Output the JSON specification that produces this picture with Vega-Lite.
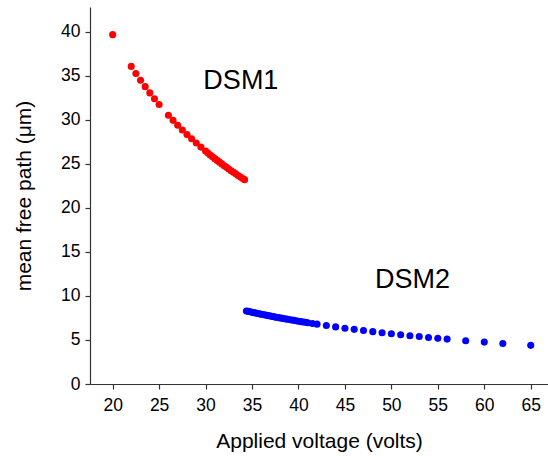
{
  "$schema": "https://vega.github.io/schema/vega-lite/v6.json",
  "width": 458,
  "height": 377,
  "autosize": {"type": "none"},
  "padding": {"left": 90, "top": 7, "right": 0, "bottom": 72},
  "background": "white",
  "config": {
    "view": {"stroke": null},
    "font": "Liberation Sans",
    "axis": {
      "domainColor": "#333333",
      "tickColor": "#333333",
      "labelColor": "#000000",
      "titleColor": "#000000",
      "labelFont": "Liberation Sans",
      "titleFont": "Liberation Sans",
      "labelFontSize": 17.5,
      "titleFontSize": 21,
      "titleFontWeight": "normal",
      "grid": false,
      "domainWidth": 1.2,
      "tickWidth": 1.2
    }
  },
  "datasets": {
    "points": [
      {"voltage": 20, "mfp": 39.7, "series": "DSM1"},
      {"voltage": 22, "mfp": 36.09, "series": "DSM1"},
      {"voltage": 22.5, "mfp": 35.29, "series": "DSM1"},
      {"voltage": 23, "mfp": 34.52, "series": "DSM1"},
      {"voltage": 23.5, "mfp": 33.79, "series": "DSM1"},
      {"voltage": 24, "mfp": 33.08, "series": "DSM1"},
      {"voltage": 24.5, "mfp": 32.41, "series": "DSM1"},
      {"voltage": 25, "mfp": 31.76, "series": "DSM1"},
      {"voltage": 26, "mfp": 30.54, "series": "DSM1"},
      {"voltage": 26.5, "mfp": 29.96, "series": "DSM1"},
      {"voltage": 27, "mfp": 29.41, "series": "DSM1"},
      {"voltage": 27.5, "mfp": 28.87, "series": "DSM1"},
      {"voltage": 28, "mfp": 28.36, "series": "DSM1"},
      {"voltage": 28.5, "mfp": 27.86, "series": "DSM1"},
      {"voltage": 29, "mfp": 27.38, "series": "DSM1"},
      {"voltage": 29.5, "mfp": 26.92, "series": "DSM1"},
      {"voltage": 30, "mfp": 26.47, "series": "DSM1"},
      {"voltage": 30.25, "mfp": 26.25, "series": "DSM1"},
      {"voltage": 30.5, "mfp": 26.03, "series": "DSM1"},
      {"voltage": 30.75, "mfp": 25.82, "series": "DSM1"},
      {"voltage": 31, "mfp": 25.61, "series": "DSM1"},
      {"voltage": 31.25, "mfp": 25.41, "series": "DSM1"},
      {"voltage": 31.5, "mfp": 25.21, "series": "DSM1"},
      {"voltage": 31.75, "mfp": 25.01, "series": "DSM1"},
      {"voltage": 32, "mfp": 24.81, "series": "DSM1"},
      {"voltage": 32.25, "mfp": 24.62, "series": "DSM1"},
      {"voltage": 32.5, "mfp": 24.43, "series": "DSM1"},
      {"voltage": 32.75, "mfp": 24.24, "series": "DSM1"},
      {"voltage": 33, "mfp": 24.06, "series": "DSM1"},
      {"voltage": 33.25, "mfp": 23.88, "series": "DSM1"},
      {"voltage": 33.5, "mfp": 23.7, "series": "DSM1"},
      {"voltage": 33.75, "mfp": 23.53, "series": "DSM1"},
      {"voltage": 34, "mfp": 23.35, "series": "DSM1"},
      {"voltage": 34.2, "mfp": 23.22, "series": "DSM1"},
      {"voltage": 34.4, "mfp": 8.3, "series": "DSM2"},
      {"voltage": 34.6, "mfp": 8.25, "series": "DSM2"},
      {"voltage": 34.8, "mfp": 8.2, "series": "DSM2"},
      {"voltage": 35, "mfp": 8.16, "series": "DSM2"},
      {"voltage": 35.2, "mfp": 8.11, "series": "DSM2"},
      {"voltage": 35.4, "mfp": 8.07, "series": "DSM2"},
      {"voltage": 35.6, "mfp": 8.02, "series": "DSM2"},
      {"voltage": 35.8, "mfp": 7.97, "series": "DSM2"},
      {"voltage": 36, "mfp": 7.93, "series": "DSM2"},
      {"voltage": 36.2, "mfp": 7.89, "series": "DSM2"},
      {"voltage": 36.4, "mfp": 7.84, "series": "DSM2"},
      {"voltage": 36.6, "mfp": 7.8, "series": "DSM2"},
      {"voltage": 36.8, "mfp": 7.76, "series": "DSM2"},
      {"voltage": 37, "mfp": 7.72, "series": "DSM2"},
      {"voltage": 37.2, "mfp": 7.67, "series": "DSM2"},
      {"voltage": 37.4, "mfp": 7.63, "series": "DSM2"},
      {"voltage": 37.6, "mfp": 7.59, "series": "DSM2"},
      {"voltage": 37.8, "mfp": 7.55, "series": "DSM2"},
      {"voltage": 38, "mfp": 7.51, "series": "DSM2"},
      {"voltage": 38.25, "mfp": 7.46, "series": "DSM2"},
      {"voltage": 38.5, "mfp": 7.42, "series": "DSM2"},
      {"voltage": 38.75, "mfp": 7.37, "series": "DSM2"},
      {"voltage": 39, "mfp": 7.32, "series": "DSM2"},
      {"voltage": 39.25, "mfp": 7.27, "series": "DSM2"},
      {"voltage": 39.5, "mfp": 7.23, "series": "DSM2"},
      {"voltage": 39.75, "mfp": 7.18, "series": "DSM2"},
      {"voltage": 40, "mfp": 7.14, "series": "DSM2"},
      {"voltage": 40.25, "mfp": 7.09, "series": "DSM2"},
      {"voltage": 40.5, "mfp": 7.05, "series": "DSM2"},
      {"voltage": 40.75, "mfp": 7.01, "series": "DSM2"},
      {"voltage": 41, "mfp": 6.96, "series": "DSM2"},
      {"voltage": 41.5, "mfp": 6.88, "series": "DSM2"},
      {"voltage": 42, "mfp": 6.8, "series": "DSM2"},
      {"voltage": 43, "mfp": 6.64, "series": "DSM2"},
      {"voltage": 44, "mfp": 6.49, "series": "DSM2"},
      {"voltage": 45, "mfp": 6.34, "series": "DSM2"},
      {"voltage": 46, "mfp": 6.21, "series": "DSM2"},
      {"voltage": 47, "mfp": 6.07, "series": "DSM2"},
      {"voltage": 48, "mfp": 5.95, "series": "DSM2"},
      {"voltage": 49, "mfp": 5.83, "series": "DSM2"},
      {"voltage": 50, "mfp": 5.71, "series": "DSM2"},
      {"voltage": 51, "mfp": 5.6, "series": "DSM2"},
      {"voltage": 52, "mfp": 5.49, "series": "DSM2"},
      {"voltage": 53, "mfp": 5.39, "series": "DSM2"},
      {"voltage": 54, "mfp": 5.29, "series": "DSM2"},
      {"voltage": 55, "mfp": 5.19, "series": "DSM2"},
      {"voltage": 56, "mfp": 5.1, "series": "DSM2"},
      {"voltage": 58, "mfp": 4.92, "series": "DSM2"},
      {"voltage": 60, "mfp": 4.76, "series": "DSM2"},
      {"voltage": 62, "mfp": 4.6, "series": "DSM2"},
      {"voltage": 65, "mfp": 4.39, "series": "DSM2"}
    ],
    "labels": [
      {"voltage": 33.8, "mfp": 33.5, "label": "DSM1"},
      {"voltage": 52.27, "mfp": 10.94, "label": "DSM2"}
    ]
  },
  "layer": [
    {
      "data": {"name": "points"},
      "mark": {"type": "point", "filled": true, "shape": "circle", "size": 50, "opacity": 1},
      "encoding": {
        "x": {
          "field": "voltage",
          "type": "quantitative",
          "scale": {"domain": [17.56, 66.86], "nice": false, "zero": false},
          "axis": {
            "title": "Applied voltage (volts)",
            "values": [20, 22.5, 25, 27.5, 30, 32.5, 35, 37.5, 40, 42.5, 45, 47.5, 50, 52.5, 55, 57.5, 60, 62.5, 65],
            "labelExpr": "datum.value % 5 === 0 ? datum.label : ''",
            "tickSize": {"condition": {"test": "datum.value % 5 !== 0", "value": 3}, "value": 5},
            "labelPadding": 7,
            "titlePadding": 17,
            "labelFlush": false
          }
        },
        "y": {
          "field": "mfp",
          "type": "quantitative",
          "scale": {"domain": [0, 42.84], "nice": false},
          "axis": {
            "title": "mean free path (μm)",
            "values": [0, 2.5, 5, 7.5, 10, 12.5, 15, 17.5, 20, 22.5, 25, 27.5, 30, 32.5, 35, 37.5, 40, 42.5],
            "labelExpr": "datum.value % 5 === 0 ? datum.label : ''",
            "tickSize": {"condition": {"test": "datum.value % 5 !== 0", "value": 3}, "value": 5},
            "labelPadding": 5,
            "titlePadding": 26,
            "labelFlush": false
          }
        },
        "color": {
          "field": "series",
          "type": "nominal",
          "scale": {"domain": ["DSM1", "DSM2"], "range": ["#ff0000", "#0000ff"]},
          "legend": null
        }
      }
    },
    {
      "data": {"name": "labels"},
      "mark": {"type": "text", "font": "Liberation Sans", "fontSize": 27, "align": "center", "baseline": "alphabetic", "color": "#000000"},
      "encoding": {
        "x": {"field": "voltage", "type": "quantitative"},
        "y": {"field": "mfp", "type": "quantitative"},
        "text": {"field": "label"}
      }
    }
  ]
}
